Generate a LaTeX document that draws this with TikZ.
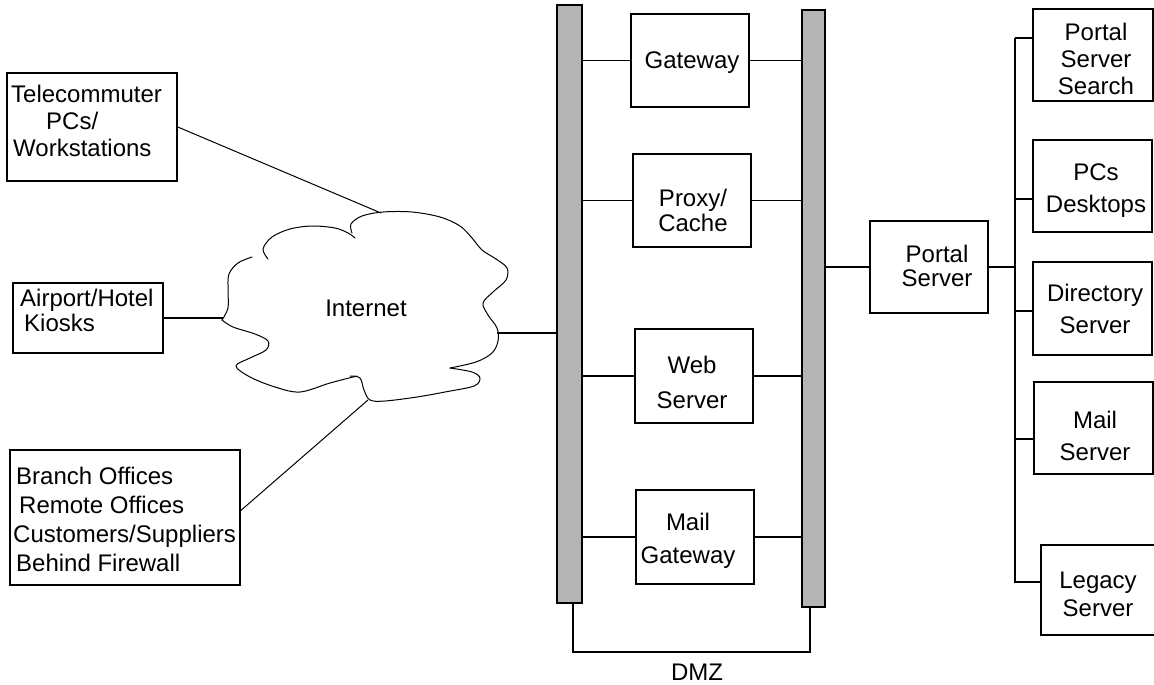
\documentclass[tikz,border=0pt]{standalone}
\usepackage{fontspec}
\setmainfont{Liberation Sans}
\definecolor{barfill}{RGB}{180,180,180}
\begin{document}
\begin{tikzpicture}[x=1pt,y=-1pt,
  box/.style={draw, line width=1.6pt, inner sep=0pt},
  bar/.style={draw, fill=barfill, line width=1.4pt, inner sep=0pt},
  txt/.style={inner sep=0pt, align=center, font=\fontsize{24}{27}\selectfont},
  ltxt/.style={inner sep=0pt, align=left, anchor=west, font=\fontsize{24}{27}\selectfont},
  wire/.style={line width=1.3pt},
  thin/.style={line width=1pt},
  cloudline/.style={line width=1pt, line cap=round}]
\useasboundingbox (0,0) rectangle (1154,685);

% ---- left boxes
\node[box, minimum width=170pt, minimum height=108pt] (tc) at (92,127) {};
\node[ltxt] (tct) at (11,121) {Telecommuter\\\hspace*{35pt}PCs/\\\hspace*{2pt}Workstations};
\node[box, minimum width=150pt, minimum height=70pt] (ap) at (88,318) {};
\node[ltxt, font=\fontsize{24}{25}\selectfont] (apt) at (20,310.5) {Airport/Hotel\\\hspace*{4pt}Kiosks};
\node[box, minimum width=230pt, minimum height=135pt] (br) at (125,517.5) {};
\node[ltxt, font=\fontsize{24}{29}\selectfont] (brt) at (13,519) {\hspace*{3pt}Branch Offices\\\hspace*{6pt}Remote Offices\\Customers/Suppliers\\\hspace*{3pt}Behind Firewall};

% ---- cloud
\draw[cloudline] plot[smooth, tension=0.55] coordinates {(268,259) (263,249) (272,237) (290,229) (312,226) (335,228) (348,233) (355,238)};
\draw[cloudline] plot[smooth, tension=0.55] coordinates {(352,233) (351,224) (362,216) (383,212) (412,212) (440,217) (460,226) (472,238) (482,250) (496,259) (507,268) (506,280) (493,292) (483,303) (488,315) (497,328) (498,341) (492,353) (476,362) (450,368)};
\draw[cloudline] plot[smooth, tension=0.55] coordinates {(450,368) (472,372) (480,378) (474,386) (445,392) (417,397) (385,401) (370,400) (364,390) (360,378) (350,376)};
\draw[cloudline] plot[smooth, tension=0.55] coordinates {(357,376) (330,383) (300,392) (275,387) (250,377) (236,366) (250,358) (266,350) (268,341) (255,334) (233,327) (222,320)};
\draw[cloudline] plot[smooth, tension=0.55] coordinates {(222,320) (228,308) (228,290) (229,274) (238,263) (252,257)};
\node[txt] (inet) at (366,308) {Internet};
\coordinate (c1) at (381,213);
\coordinate (c2) at (223,318);
\coordinate (c3) at (368,400);
\coordinate (c4) at (497,333);

% ---- bars
\node[bar, minimum width=25pt, minimum height=598pt] (lbar) at (569.5,304) {};
\node[bar, minimum width=23pt, minimum height=597pt] (rbar) at (813.5,308.5) {};

% ---- DMZ boxes
\node[box, minimum width=118pt, minimum height=93pt] (gw) at (690,60.5) {};
\node[txt] (gwt) at (692,63) {Gateway};
\node[box, minimum width=118pt, minimum height=93pt] (px) at (692,200.5) {};
\node[txt, font=\fontsize{24}{25}\selectfont] (pxt) at (693,210) {Proxy/\\Cache};
\node[box, minimum width=118pt, minimum height=94pt] (ws) at (694,376) {};
\node[txt, font=\fontsize{24}{35}\selectfont] (wst) at (692,382) {Web\\Server};
\node[box, minimum width=118pt, minimum height=94pt] (mg) at (695,537) {};
\node[txt, font=\fontsize{24}{33}\selectfont] (mgt) at (688,541) {Mail\\Gateway};
\node[txt] (dmz) at (697,672) {DMZ};

% ---- right side
\node[box, minimum width=118pt, minimum height=92pt] (ps) at (929,267) {};
\node[txt, font=\fontsize{24}{24}\selectfont] (pst) at (937,266) {Portal\\Server};
\node[box, minimum width=120pt, minimum height=92pt] (pss) at (1093,55) {};
\node[txt] (psst) at (1096,59) {Portal\\Server\\Search};
\node[box, minimum width=119pt, minimum height=92pt] (pcd) at (1092.5,186) {};
\node[txt, font=\fontsize{24}{32}\selectfont] (pcdt) at (1096,191) {PCs\\Desktops};
\node[box, minimum width=119pt, minimum height=93pt] (ds) at (1092.5,308.5) {};
\node[txt, font=\fontsize{24}{32}\selectfont] (dst) at (1095,309) {Directory\\Server};
\node[box, minimum width=119pt, minimum height=92pt] (ms) at (1093.5,428) {};
\node[txt, font=\fontsize{24}{32}\selectfont] (mst) at (1095,436) {Mail\\Server};
\node[box, minimum width=113.5pt, minimum height=90pt] (ls) at (1097.75,590) {};
\node[txt, font=\fontsize{24}{28}\selectfont] (lst) at (1098,594) {Legacy\\Server};

% ---- connectors left
\draw[thin] (tc.east) -- (c1);
\draw[wire] (ap.east) -- (c2);
\draw[thin] ([yshift=7pt]br.east) -- (c3);
\draw[wire] (c4) -- (c4 -| lbar.west);

% ---- DMZ connectors
\foreach \b in {gw,px,ws,mg}{
  \draw[wire] (\b.west) -- (\b.west -| lbar.east);
  \draw[wire] (\b.east) -- (\b.east -| rbar.west);
}
\coordinate (dmzL) at (573,652);
\coordinate (dmzR) at (810,652);
\draw[wire] (lbar.south -| dmzL) -- (dmzL) -- (dmzR) -- (rbar.south -| dmzR);

% ---- right connectors
\coordinate (bt) at (1015,38);
\draw[wire] (ps.west) -- (ps.west -| rbar.east);
\draw[wire] (ps.east) -- (ps.east -| bt);
\path (bt |- ls.west) ++(0,-8) coordinate (bb);
\draw[wire] (bt) -- (bb) -- (bb -| ls.west);
\draw[wire] (bt) -- (bt -| pss.west);
\draw[wire] ([yshift=-13pt]pcd.west) -- ([yshift=-13pt]pcd.west -| bt);
\draw[wire] ([yshift=-2.5pt]ds.west) -- ([yshift=-2.5pt]ds.west -| bt);
\draw[wire] ([yshift=-11pt]ms.west) -- ([yshift=-11pt]ms.west -| bt);
\end{tikzpicture}
\end{document}
